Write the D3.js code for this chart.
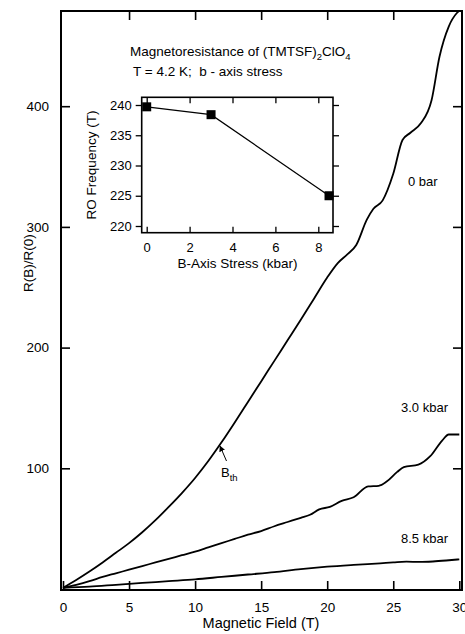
<!DOCTYPE html>
<html>
<head>
<meta charset="utf-8">
<script src="https://cdn.jsdelivr.net/npm/d3@7"></script>
<style>
  body { margin: 0; background: #fff; }
  svg { display: block; }
  text { font-family: "Liberation Sans", Arial, Helvetica, sans-serif; fill: #000; }
</style>
</head>
<body>
<svg id="chart" width="465" height="634"></svg>
<script>
// Magnetoresistance R(B)/R(0) of (TMTSF)2ClO4 at 4.2 K for three b-axis stresses
const field0bar = [0, 1, 2, 3, 4, 5, 6, 7, 8, 9, 10, 11, 12, 13, 14, 15, 16, 17, 18, 19, 20, 20.8, 21.5, 22.2, 23, 23.5, 24.2, 25, 25.7, 26.3, 27.1, 27.9, 28.5, 29.2, 29.8, 30];
const ratio0bar = [1, 7.5, 14.5, 22, 30, 38, 47, 57, 68, 79.5, 92, 106, 121.5, 138, 155, 172, 189, 206, 223, 240.5, 258, 270, 277, 285, 306, 315, 322, 344, 372, 378, 386, 405, 441, 466, 477, 479];

const field3kbar = [0, 1, 2, 3, 4, 5, 6, 7, 8, 9, 10, 11, 12, 13, 14, 15, 16, 17, 18, 18.7, 19.4, 20.2, 21.1, 22, 23.1, 23.9, 24.5, 25.3, 25.8, 26.9, 27.8, 28.7, 29.2, 30];
const ratio3kbar = [1, 3.5, 6.5, 10, 13, 16, 19, 22, 25, 28, 31, 34.5, 38, 41.5, 45, 48, 52, 55.5, 59, 61.5, 66, 68, 73, 76, 85, 85.5, 89, 97, 101, 103, 110, 123, 128, 128];

const field85kbar = [0, 2, 4, 6, 8, 10, 12, 14, 16, 18, 20, 22, 24, 25, 26, 27, 28, 29, 30];
const ratio85kbar = [1, 2, 3.5, 5, 6.5, 8, 10, 12, 14, 16.5, 18.5, 20, 21.3, 22, 22.6, 22.4, 22.8, 23.6, 24.6];

const curveNames = ["0 bar", "3.0 kbar", "8.5 kbar"];

// Inset: rapid-oscillation frequency against b-axis stress
const stressKbar = [0, 3, 8.5];
const roFrequency = [239.7, 238.4, 225.0];

const fieldTicks = [0, 5, 10, 15, 20, 25, 30];
const ratioTicks = [100, 200, 300, 400];
const stressTicks = [0, 2, 4, 6, 8];
const freqTicks = [220, 225, 230, 235, 240];

const svg = d3.select("#chart");

// ---------- main panel ----------
const frame = { left: 61, right: 462, top: 11, bottom: 590 };
const x = d3.scaleLinear().domain([0, 30]).range([63, 459.3]);
const y = d3.scaleLinear().domain([0, 400]).range([589, 106.2]);

const series = [
  { name: curveNames[0], b: field0bar, r: ratio0bar },
  { name: curveNames[1], b: field3kbar, r: ratio3kbar },
  { name: curveNames[2], b: field85kbar, r: ratio85kbar }
];

const line = d3.line().x(d => x(d[0])).y(d => y(d[1])).curve(d3.curveMonotoneX);

svg.append("g").selectAll("path").data(series).join("path")
  .attr("d", s => line(s.b.map((v, i) => [v, s.r[i]])))
  .attr("fill", "none").attr("stroke", "#000").attr("stroke-width", 1.8)
  .attr("stroke-linejoin", "round");

// axes with inward ticks on all four sides
const tickLen = 9;
svg.append("g").attr("transform", `translate(0,${frame.bottom})`)
  .call(d3.axisBottom(x).tickValues(fieldTicks).tickSizeInner(-tickLen).tickSizeOuter(0).tickPadding(tickLen + 3))
  .call(g => g.select(".domain").remove())
  .call(g => g.selectAll("line").attr("stroke-width", 1.6))
  .call(g => g.selectAll("text").attr("font-size", 13.5).attr("font-family", null));

svg.append("g").attr("transform", `translate(0,${frame.top})`)
  .call(d3.axisTop(x).tickValues(fieldTicks.slice(1, -1)).tickSizeInner(-tickLen).tickSizeOuter(0).tickFormat(""))
  .call(g => g.select(".domain").remove())
  .call(g => g.selectAll("line").attr("stroke-width", 1.6));

svg.append("g").attr("transform", `translate(${frame.left},0)`)
  .call(d3.axisLeft(y).tickValues(ratioTicks).tickSizeInner(-tickLen).tickSizeOuter(0).tickPadding(tickLen + 3))
  .call(g => g.select(".domain").remove())
  .call(g => g.selectAll("line").attr("stroke-width", 1.6))
  .call(g => g.selectAll("text").attr("font-size", 13.5).attr("font-family", null));

svg.append("g").attr("transform", `translate(${frame.right},0)`)
  .call(d3.axisRight(y).tickValues(ratioTicks).tickSizeInner(-tickLen).tickSizeOuter(0).tickFormat(""))
  .call(g => g.select(".domain").remove())
  .call(g => g.selectAll("line").attr("stroke-width", 1.6));

svg.append("rect")
  .attr("x", frame.left).attr("y", frame.top)
  .attr("width", frame.right - frame.left).attr("height", frame.bottom - frame.top)
  .attr("fill", "none").attr("stroke", "#000").attr("stroke-width", 2);

// axis titles
svg.append("text").attr("x", 261).attr("y", 628).attr("text-anchor", "middle")
  .attr("font-size", 14.5).text("Magnetic Field (T)");
svg.append("text").attr("transform", "translate(33,263) rotate(-90)").attr("text-anchor", "middle")
  .attr("font-size", 13.5).text("R(B)/R(0)");

// curve labels
const labelPos = [[408, 186], [401, 412], [401, 543]];
svg.append("g").selectAll("text").data(series).join("text")
  .attr("x", (d, i) => labelPos[i][0]).attr("y", (d, i) => labelPos[i][1])
  .attr("font-size", 13).text(d => d.name);

// threshold-field marker
const defs = svg.append("defs");
defs.append("marker").attr("id", "arrowhead").attr("viewBox", "0 0 10 10")
  .attr("refX", 9).attr("refY", 5).attr("markerWidth", 6).attr("markerHeight", 6)
  .attr("orient", "auto")
  .append("path").attr("d", "M0,0 L10,5 L0,10 Z").attr("fill", "#000");
svg.append("line").attr("x1", 226.5).attr("y1", 461).attr("x2", 220).attr("y2", 446)
  .attr("stroke", "#000").attr("stroke-width", 1).attr("marker-end", "url(#arrowhead)");
const bth = svg.append("text").attr("x", 221).attr("y", 477).attr("font-size", 13);
bth.append("tspan").text("B");
bth.append("tspan").attr("dy", 4).attr("font-size", 9.5).text("th");

// title
const t1 = svg.append("text").attr("x", 130).attr("y", 56).attr("font-size", 13.5);
t1.append("tspan").text("Magnetoresistance of (TMTSF)");
t1.append("tspan").attr("dy", 4).attr("font-size", 9.5).text("2");
t1.append("tspan").attr("dy", -4).text("ClO");
t1.append("tspan").attr("dy", 4).attr("font-size", 9.5).text("4");
svg.append("text").attr("x", 133).attr("y", 76).attr("font-size", 13.5)
  .attr("xml:space", "preserve").text("T = 4.2 K;  b - axis stress");

// ---------- inset ----------
const inset = { left: 141.7, right: 333, top: 97.3, bottom: 232.7 };
const ix = d3.scaleLinear().domain([0, 8]).range([146.7, 318.3]);
const iy = d3.scaleLinear().domain([220, 240]).range([226, 105]);
const ig = svg.append("g");

ig.append("rect").attr("x", inset.left).attr("y", inset.top)
  .attr("width", inset.right - inset.left).attr("height", inset.bottom - inset.top)
  .attr("fill", "#fff");

const itick = 6;
ig.append("g").attr("transform", `translate(0,${inset.bottom})`)
  .call(d3.axisBottom(ix).tickValues(stressTicks).tickSizeInner(-itick).tickSizeOuter(0).tickPadding(itick + 4))
  .call(g => g.select(".domain").remove())
  .call(g => g.selectAll("line").attr("stroke-width", 1.3))
  .call(g => g.selectAll("text").attr("font-size", 13).attr("font-family", null));
ig.append("g").attr("transform", `translate(0,${inset.top})`)
  .call(d3.axisTop(ix).tickValues(stressTicks).tickSizeInner(-itick).tickSizeOuter(0).tickFormat(""))
  .call(g => g.select(".domain").remove())
  .call(g => g.selectAll("line").attr("stroke-width", 1.3));
ig.append("g").attr("transform", `translate(${inset.left},0)`)
  .call(d3.axisLeft(iy).tickValues(freqTicks).tickSizeInner(itick).tickSizeOuter(0).tickPadding(4))
  .call(g => g.select(".domain").remove())
  .call(g => g.selectAll("line").attr("stroke-width", 1.3))
  .call(g => g.selectAll("text").attr("font-size", 13).attr("font-family", null));
ig.append("g").attr("transform", `translate(${inset.right},0)`)
  .call(d3.axisRight(iy).tickValues(freqTicks).tickSizeInner(itick).tickSizeOuter(0).tickFormat(""))
  .call(g => g.select(".domain").remove())
  .call(g => g.selectAll("line").attr("stroke-width", 1.3));

ig.append("rect").attr("x", inset.left).attr("y", inset.top)
  .attr("width", inset.right - inset.left).attr("height", inset.bottom - inset.top)
  .attr("fill", "none").attr("stroke", "#000").attr("stroke-width", 1.6);

const pts = stressKbar.map((s, i) => [s, roFrequency[i]]);
ig.append("path")
  .attr("d", d3.line().x(d => ix(d[0])).y(d => iy(d[1]))(pts))
  .attr("fill", "none").attr("stroke", "#000").attr("stroke-width", 1.2);
const sq = 9;
ig.selectAll("rect.pt").data(pts).join("rect").attr("class", "pt")
  .attr("x", d => ix(d[0]) - sq / 2).attr("y", d => iy(d[1]) - sq / 2)
  .attr("width", sq).attr("height", sq).attr("fill", "#000");

ig.append("text").attr("x", 237.5).attr("y", 267.5).attr("text-anchor", "middle")
  .attr("font-size", 13.5).text("B-Axis Stress (kbar)");
ig.append("text").attr("transform", "translate(96,165) rotate(-90)").attr("text-anchor", "middle")
  .attr("font-size", 13.5).text("RO Frequency (T)");
</script>
</body>
</html>
